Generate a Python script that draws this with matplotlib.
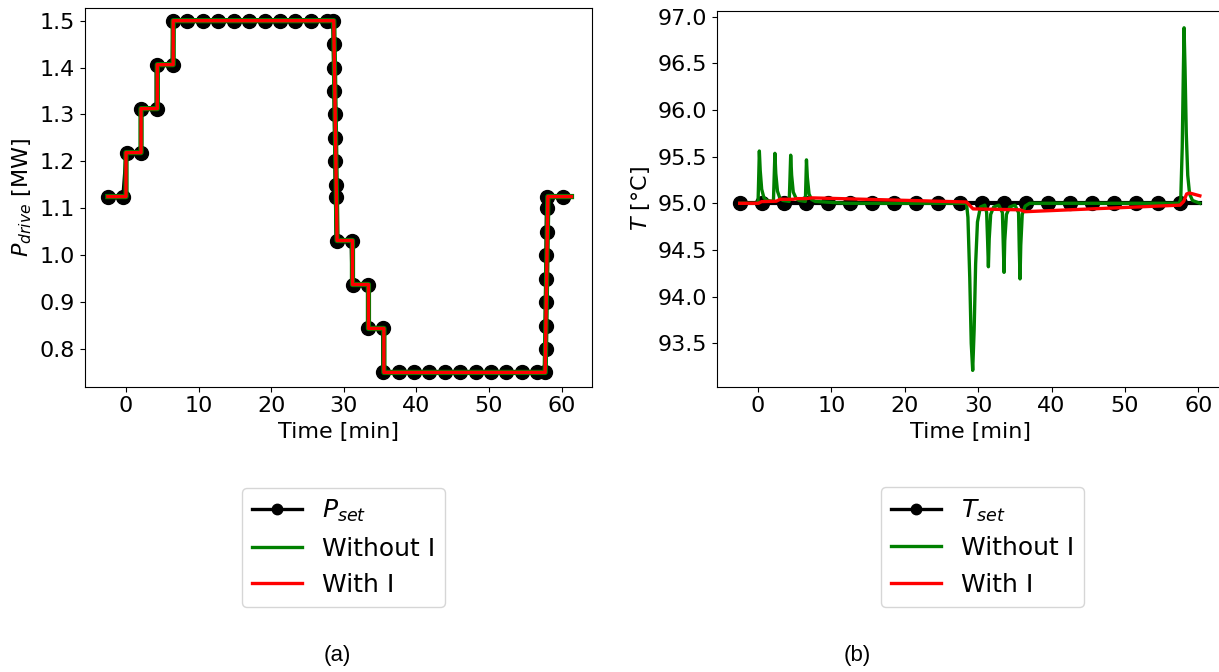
import numpy as np
import matplotlib
matplotlib.use("Agg")
import matplotlib.pyplot as plt

# drive power set points [min], [MW]
p_set_t = [-2.5, -0.37, 0.09, 2.07, 2.07, 4.22, 4.22, 6.43, 6.52, 8.45,
           10.65, 12.71, 14.87, 16.98, 19.14, 21.21, 23.27, 25.43, 27.63, 28.55,
           28.64, 28.68, 28.72, 28.76, 28.80, 28.84, 28.88, 28.92, 29.01,
           31.08, 31.21, 33.37, 33.37, 35.43, 35.43, 37.59, 39.70, 41.77, 43.93,
           45.99, 48.15, 50.22, 52.33, 54.49, 56.64, 57.70,
           57.80, 57.83, 57.86, 57.89, 57.92, 57.95, 57.98, 58.06, 60.2]
p_set = [1.125, 1.125, 1.21875, 1.21875, 1.3125, 1.3125, 1.40625, 1.40625, 1.5, 1.5,
         1.5, 1.5, 1.5, 1.5, 1.5, 1.5, 1.5, 1.5, 1.5, 1.5,
         1.45, 1.4, 1.35, 1.3, 1.25, 1.2, 1.15, 1.125, 1.03125,
         1.03125, 0.9375, 0.9375, 0.84375, 0.84375, 0.75, 0.75, 0.75, 0.75, 0.75,
         0.75, 0.75, 0.75, 0.75, 0.75, 0.75, 0.75,
         0.8, 0.85, 0.9, 0.95, 1.0, 1.05, 1.1, 1.125, 1.125]

# delivered power, both controllers
p_t = [-2.5, 0.0, 0.0, 2.07, 2.07, 4.31, 4.31, 6.5, 6.5, 28.62, 29.08,
       31.2, 31.2, 33.4, 33.4, 35.53, 35.53, 57.75, 58.12, 61.37]
p_without_i = [1.125, 1.125, 1.21875, 1.21875, 1.3125, 1.3125, 1.40625, 1.40625,
               1.5, 1.5, 1.03125, 1.03125, 0.9375, 0.9375, 0.84375, 0.84375,
               0.75, 0.75, 1.125, 1.125]
p_with_i = [1.125, 1.125, 1.21875, 1.21875, 1.3125, 1.3125, 1.40625, 1.40625,
            1.5, 1.5, 1.03125, 1.03125, 0.9375, 0.9375, 0.84375, 0.84375,
            0.75, 0.75, 1.125, 1.125]

# temperature set point
t_set_t = [-2.5, 0.5, 3.5, 6.5, 9.5, 12.5, 15.5, 18.5, 21.5, 24.5, 27.5,
           30.5, 33.5, 36.5, 39.5, 42.5, 45.5, 48.5, 51.5, 54.5, 57.5, 60.2]
t_set = [95.0] * len(t_set_t)

# temperature without integral action
tw_t = [-2.5, 0.0, 0.1, 0.18, 0.3, 0.5, 0.8, 1.2,
        2.1, 2.2, 2.3, 2.42, 2.65, 3.0, 3.4,
        4.25, 4.35, 4.45, 4.58, 4.8, 5.2, 5.6,
        6.45, 6.53, 6.6, 6.72, 6.95, 7.3, 7.8,
        12.0, 28.4, 28.6, 28.85, 29.05, 29.25, 29.45, 29.65, 29.9, 30.3, 30.9,
        31.15, 31.28, 31.39, 31.5, 31.7, 32.1, 32.8,
        33.3, 33.42, 33.52, 33.62, 33.85, 34.3, 35.0,
        35.5, 35.6, 35.7, 35.8, 36.0, 36.4, 37.0,
        57.4, 57.6, 57.8, 57.95, 58.05, 58.18, 58.35, 58.55, 58.8, 59.2, 60.2]
tw = [95.0, 95.0, 95.3, 95.56, 95.35, 95.15, 95.06, 95.03,
      95.02, 95.28, 95.535, 95.32, 95.13, 95.05, 95.03,
      95.02, 95.26, 95.515, 95.3, 95.12, 95.05, 95.03,
      95.02, 95.25, 95.465, 95.28, 95.1, 95.04, 95.02,
      95.0, 95.0, 94.85, 94.2, 93.5, 93.21, 93.65, 94.35, 94.8, 94.96, 94.98,
      94.9, 94.6, 94.32, 94.62, 94.88, 94.96, 94.98,
      94.9, 94.55, 94.26, 94.6, 94.88, 94.96, 94.98,
      94.9, 94.5, 94.19, 94.55, 94.88, 94.97, 95.0,
      95.0, 95.05, 95.6, 96.4, 96.88, 96.45, 95.75, 95.3, 95.1, 95.03, 95.0]

# temperature with integral action
ti_t = [-2.5, 0.05, 0.5, 2.5, 3.0, 4.8, 5.3, 6.6, 7.3, 28.4, 29.3,
        35.7, 36.4, 57.5, 58.0, 58.4, 58.8, 60.2]
ti = [95.0, 95.0, 95.018, 95.022, 95.043, 95.043, 95.05, 95.05, 95.058, 95.014, 94.94,
      94.93, 94.91, 94.98, 95.02, 95.10, 95.11, 95.08]

W, H = 1219, 672
fig = plt.figure(figsize=(W / 100, H / 100), dpi=100)

ax1 = fig.add_axes([85 / W, 1 - 386.7 / H, 507 / W, (386.7 - 8.3) / H])
ax2 = fig.add_axes([716.7 / W, 1 - 386.7 / H, 507 / W, (386.7 - 11) / H])

# (a) drive power
ax1.plot(p_set_t, p_set, "o-", color="black", lw=3, ms=10, label="$P_{set}$", zorder=1)
ax1.plot(p_t, p_without_i, color="green", lw=3.8, label="Without I", zorder=2)
ax1.plot(p_t, p_with_i, color="red", lw=2.4, label="With I", zorder=3)
ax1.set_xlim(-5.65, 64.2)
ax1.set_ylim(0.7196, 1.5264)
ax1.set_yticks(np.arange(0.8, 1.51, 0.1))
ax1.set_xlabel("Time [min]", fontsize=16)
ax1.set_ylabel("$P_{drive}$ [MW]", fontsize=16)

# (b) temperature
ax2.plot(t_set_t, t_set, "o-", color="black", lw=3, ms=10, markevery=slice(0, -1),
         label="$T_{set}$", zorder=1)
ax2.plot(tw_t, tw, color="green", lw=2.4, label="Without I", zorder=2)
ax2.plot(ti_t, ti, color="red", lw=2.4, label="With I", zorder=3)
ax2.set_xlim(-5.63, 63.45)
ax2.set_ylim(93.035, 97.06)
ax2.set_yticks(np.arange(93.5, 97.01, 0.5))
ax2.set_xlabel("Time [min]", fontsize=16)
ax2.set_ylabel("$T$ [°C]", fontsize=16)

for ax in (ax1, ax2):
    ax.tick_params(labelsize=16)
    ax.set_xticks([0, 10, 20, 30, 40, 50, 60])

anchors = [(343.7 / W, 1 - 488 / H), (982.5 / W, 1 - 487.3 / H)]
for ax, anchor in zip((ax1, ax2), anchors):
    leg = ax.legend(loc="upper center", bbox_to_anchor=anchor,
                    bbox_transform=fig.transFigure, borderaxespad=0, fontsize=18,
                    markerscale=0.75)
    for line in leg.get_lines():
        line.set_linewidth(2.4)

fig.text(337 / W, 1 - 655 / H, "(a)", ha="center", va="center", fontsize=16,
         family="Liberation Sans")
fig.text(857 / W, 1 - 655 / H, "(b)", ha="center", va="center", fontsize=16,
         family="Liberation Sans")

fig.savefig("out.png", dpi=100)
